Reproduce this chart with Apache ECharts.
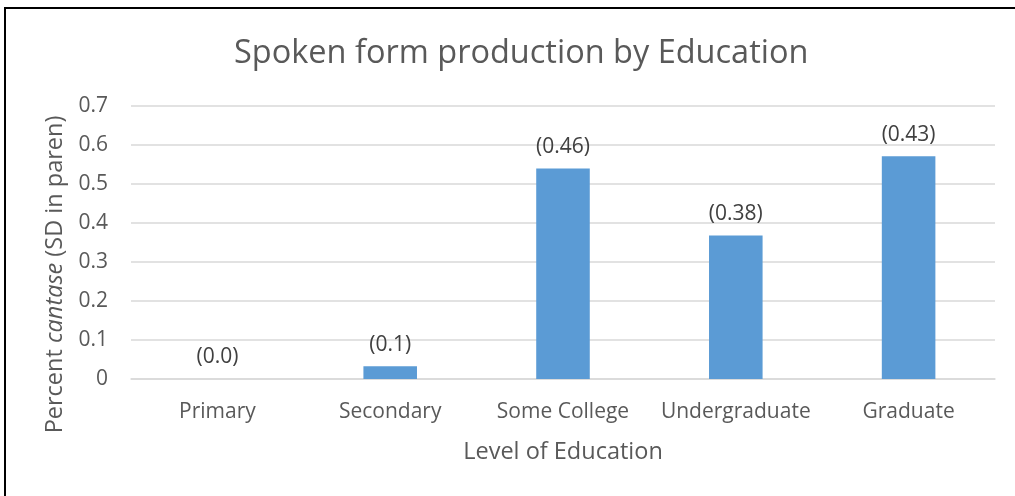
<!DOCTYPE html>
<html>
<head>
<meta charset="utf-8">
<script src="https://cdn.jsdelivr.net/npm/echarts@6/dist/echarts.min.js"></script>
<style>
  html, body { margin: 0; padding: 0; background: #fff; overflow: hidden; }
  #frame { position: absolute; left: 4px; top: 7px; width: 1020px; height: 500px;
           border-top: 2px solid #000; border-left: 2px solid #000; box-sizing: border-box; }
  #chart { position: absolute; left: 0; top: 0; width: 1015px; height: 496px; }
</style>
</head>
<body>
<div id="frame"></div>
<div id="chart"></div>
<script>
// Education levels and share of "cantase" spoken forms, with SD shown above each bar
const categories = ['Primary', 'Secondary', 'Some College', 'Undergraduate', 'Graduate'];
const percentCantase = [0, 0.033, 0.54, 0.368, 0.571];
const sdLabels = ['(0.0)', '(0.1)', '(0.46)', '(0.38)', '(0.43)'];
const yTicks = ['0', '0.1', '0.2', '0.3', '0.4', '0.5', '0.6', '0.7'];

const FONT = '"Open Sans", sans-serif';
const chart = echarts.init(document.getElementById('chart'), null, { renderer: 'canvas' });

chart.setOption({
  backgroundColor: 'transparent',
  animation: false,
  title: {
    text: 'Spoken form production by Education',
    left: 229,
    top: 32,
    textStyle: { fontFamily: FONT, fontSize: 32.5, fontWeight: 'normal', color: '#595959' }
  },
  grid: { left: 131, right: 20, top: 106, bottom: 117, containLabel: false },
  xAxis: {
    type: 'category',
    data: categories,
    name: 'Level of Education',
    nameLocation: 'middle',
    nameGap: 61,
    nameTextStyle: { fontFamily: FONT, fontSize: 23.5, color: '#595959' },
    axisLine: { lineStyle: { color: '#D9D9D9', width: 1.5 } },
    axisTick: { show: false },
    axisLabel: { interval: 0, margin: 23, fontFamily: FONT, fontSize: 21, color: '#595959' }
  },
  yAxis: {
    type: 'value',
    min: 0,
    max: 0.7,
    interval: 0.1,
    name: 'Percent {i|cantase} (SD in paren)',
    nameLocation: 'middle',
    nameGap: 64,
    nameTextStyle: {
      fontFamily: FONT, fontSize: 23.5, color: '#595959',
      // extra room on the reading-end side nudges the title down along the axis
      padding: [0, 64, 0, 0],
      rich: { i: { fontFamily: FONT, fontSize: 23.5, fontStyle: 'italic', color: '#595959' } }
    },
    axisLine: { show: false },
    axisTick: { show: false },
    splitLine: { lineStyle: { color: '#D9D9D9', width: 1.5 } },
    axisLabel: {
      margin: 23, fontFamily: FONT, fontSize: 21, color: '#595959',
      formatter: (v) => yTicks[Math.round(v * 10)]
    }
  },
  series: [{
    type: 'bar',
    data: percentCantase,
    barCategoryGap: '69%',
    itemStyle: { color: '#5B9BD5' },
    label: {
      show: true,
      position: 'top',
      distance: 11,
      fontFamily: FONT,
      fontSize: 21,
      color: '#404040',
      formatter: (p) => sdLabels[p.dataIndex]
    }
  }]
});
</script>
</body>
</html>
